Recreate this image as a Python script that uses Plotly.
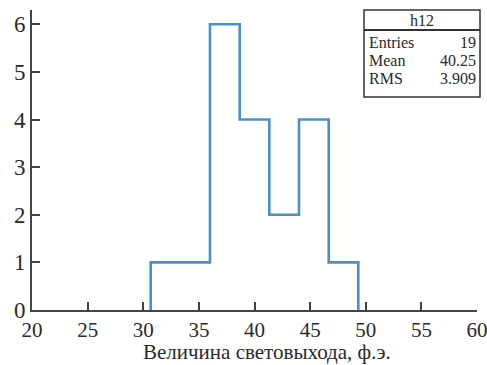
import plotly.graph_objects as go

# Data
bin_edges = [30.67, 33.33, 36.0, 38.67, 41.33, 44.0, 46.67, 49.33]
counts = [1, 1, 6, 4, 2, 4, 1]
x_ticks = [20, 25, 30, 35, 40, 45, 50, 55, 60]
y_ticks = [0, 1, 2, 3, 4, 5, 6]
stats_title = "h12"
stats_labels = ["Entries", "Mean", "RMS"]
stats_values = ["19", "40.25", "3.909"]
x_title = "Величина световыхода, ф.э."

# build step outline explicitly
px, py = [bin_edges[0]], [0]
for i, c in enumerate(counts):
    px += [bin_edges[i], bin_edges[i + 1]]
    py += [c, c]
px.append(bin_edges[-1])
py.append(0)

serif = "Liberation Serif"
axcol = "#444444"
txtcol = "#2a2a2a"

fig = go.Figure()
fig.add_trace(go.Scatter(x=px, y=py, mode="lines",
                         line=dict(color="#4a8fca", width=2.6),
                         showlegend=False, hoverinfo="skip"))

fig.update_layout(
    width=487, height=365,
    margin=dict(l=32, r=10, t=10, b=55),
    paper_bgcolor="white", plot_bgcolor="white",
    font=dict(family=serif, color=txtcol),
)
fig.update_xaxes(range=[20, 60], tickvals=x_ticks, ticks="inside", ticklen=8,
                 tickwidth=1.5, tickcolor=axcol, showline=True, linecolor=axcol,
                 linewidth=1.6, showgrid=False, zeroline=False, automargin=False,
                 ticklabeloverflow="allow", ticklabelstandoff=0,
                 tickfont=dict(family=serif, size=21, color=txtcol))
fig.update_yaxes(range=[0, 6.3], tickvals=y_ticks, ticks="inside", ticklen=8,
                 tickwidth=1.5, tickcolor=axcol, showline=True, linecolor=axcol,
                 linewidth=1.6, showgrid=False, zeroline=False, automargin=False,
                 ticklabeloverflow="allow",
                 tickfont=dict(family=serif, size=23, color=txtcol))

# stats box (pixel -> paper)
def pxx(p):
    return (p - 32) / 445.0

def pxy(p):
    return (310 - p) / 300.0

fig.add_annotation(text=x_title, xref="paper", yref="paper", x=0.528, y=pxy(352),
                   xanchor="center", yanchor="middle", showarrow=False,
                   font=dict(family=serif, size=21, color=txtcol))

x0, x1, y0, y1 = 364, 480, 10, 97
fig.add_shape(type="rect", xref="paper", yref="paper",
              x0=pxx(x0), x1=pxx(x1), y0=pxy(y1), y1=pxy(y0),
              line=dict(color="#333333", width=1.5), fillcolor="white")
fig.add_shape(type="line", xref="paper", yref="paper",
              x0=pxx(x0), x1=pxx(x1), y0=pxy(30), y1=pxy(30),
              line=dict(color="#333333", width=2))
fig.add_annotation(text=stats_title, xref="paper", yref="paper",
                   x=pxx((x0 + x1) / 2), y=pxy(20), xanchor="center", yanchor="middle",
                   showarrow=False, font=dict(family=serif, size=16, color=txtcol))
for i, (lab, val) in enumerate(zip(stats_labels, stats_values)):
    yy = pxy(43 + i * 17.5)
    fig.add_annotation(text=lab, xref="paper", yref="paper", x=pxx(367), y=yy,
                       xanchor="left", yanchor="middle", showarrow=False,
                       font=dict(family=serif, size=16, color=txtcol))
    fig.add_annotation(text=val, xref="paper", yref="paper", x=pxx(478), y=yy,
                       xanchor="right", yanchor="middle", showarrow=False,
                       font=dict(family=serif, size=16, color=txtcol))

fig.write_html("out.html")
